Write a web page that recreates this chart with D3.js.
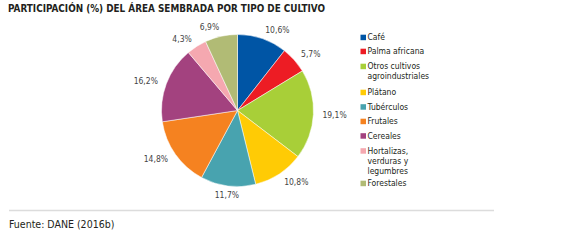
<!DOCTYPE html>
<html><head><meta charset="utf-8">
<script src="https://cdn.jsdelivr.net/npm/d3@7"></script>
<style>
body{margin:0;background:#fff;}
svg{display:block;}
</style></head>
<body>
<svg id="c" width="574" height="247"></svg>
<script>
const title = "PARTICIPACIÓN (%) DEL ÁREA SEMBRADA POR TIPO DE CULTIVO";
const source = "Fuente:  DANE (2016b)";
const categories = ["Café","Palma africana","Otros cultivos agroindustriales","Plátano","Tubérculos","Frutales","Cereales","Hortalizas, verduras y legumbres","Forestales"];
const legendLines = [["Café"],["Palma africana"],["Otros cultivos","agroindustriales"],["Plátano"],["Tubérculos"],["Frutales"],["Cereales"],["Hortalizas,","verduras y","legumbres"],["Forestales"]];
const values = [10.6,5.7,19.1,10.8,11.7,14.8,16.2,4.3,6.9];
const labels = ["10,6%","5,7%","19,1%","10,8%","11,7%","14,8%","16,2%","4,3%","6,9%"];
const colors = ["#0055a5","#ed1c24","#a8cf38","#ffcb05","#48a3af","#f58220","#a3427f","#f5a8b0","#b1bb75"];

const svg = d3.select("#c");
const font = "'Liberation Sans Narrow','DejaVu Sans Condensed','Roboto',sans-serif";

// title
const t = svg.append("text").attr("x",8).attr("y",12)
  .attr("font-family","'DejaVu Sans Condensed','Liberation Sans Narrow',sans-serif")
  .attr("font-weight","bold").attr("font-size",11).attr("fill","#231f20").text(title);
const tw = t.node().getComputedTextLength();
t.attr("textLength",317).attr("lengthAdjust","spacingAndGlyphs");

// pie
const cx = 237.5, cy = 110.5, r = 76;
const pie = d3.pie().sort(null).value(d=>d)(values);
const arc = d3.arc().innerRadius(0).outerRadius(r);
const g = svg.append("g").attr("transform",`translate(${cx},${cy})`);
g.selectAll("path").data(pie).join("path")
  .attr("d",arc).attr("fill",(d,i)=>colors[i])
  .attr("stroke","#fff").attr("stroke-width",0.5);

const R = 85;
g.selectAll("text.lab").data(pie).join("text").attr("class","lab")
  .each(function(d,i){
    const a = (d.startAngle+d.endAngle)/2;
    const s = Math.sin(a), c = -Math.cos(a);
    const el = d3.select(this);
    el.attr("x", R*s).attr("y", R*c).attr("dy","0.35em")
      .attr("text-anchor", Math.abs(s)<0.15 ? "middle" : (s>0 ? "start" : "end"));
  })
  .attr("font-family",font).attr("font-size",8.5).attr("fill","#444")
  .text((d,i)=>labels[i]);

// legend
const lx = 360.5;
const ly = [37.5,51.5,66.5,92.5,107,121.5,136,151,183.5];
const lineH = 10;
categories.forEach((cat,i)=>{
  const y = ly[i];
  svg.append("rect").attr("x",lx).attr("y",y-2.8).attr("width",5.5).attr("height",5.5).attr("fill",colors[i]);
  const tx = svg.append("text").attr("x",lx+7).attr("y",y).attr("dy","0.35em")
    .attr("font-family",font).attr("font-size",8.5).attr("fill","#231f20");
  legendLines[i].forEach((ln,j)=>{
    tx.append("tspan").attr("x",lx+7).attr("dy", j===0 ? "0.35em" : lineH).text(ln);
  });
});

// separator
svg.append("line").attr("x1",9).attr("x2",494).attr("y1",210.5).attr("y2",210.5)
  .attr("stroke","#dcdcdc").attr("stroke-width",1.5);
svg.append("text").attr("x",9).attr("y",228)
  .attr("font-family","'DejaVu Sans Condensed','Liberation Sans Narrow',sans-serif")
  .attr("font-size",10.5).attr("fill","#231f20").text(source);
</script>
</body></html>
